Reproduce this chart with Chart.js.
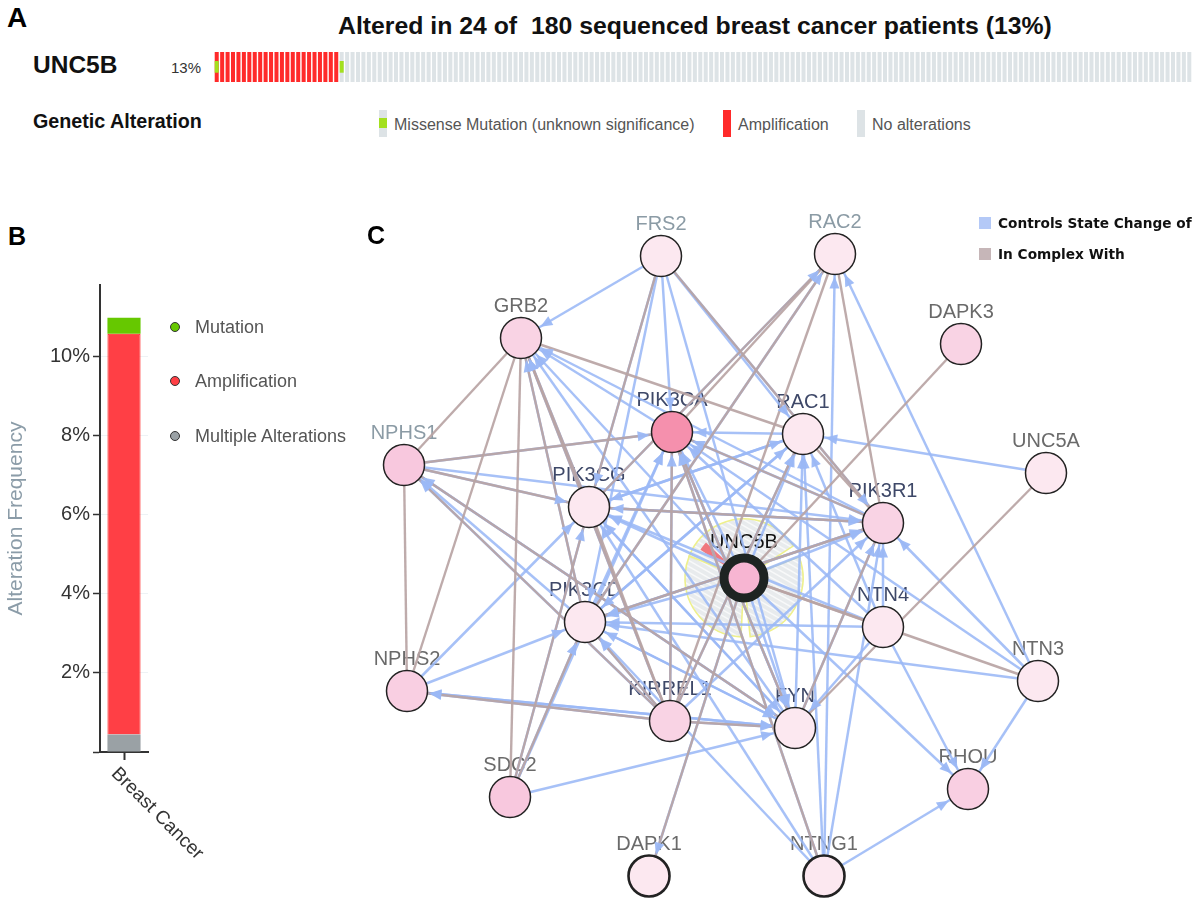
<!DOCTYPE html>
<html>
<head>
<meta charset="utf-8">
<script src="https://cdn.jsdelivr.net/npm/chart.js@4.4.1/dist/chart.umd.min.js"></script>
<style>
    body { margin: 0; width: 1200px; height: 906px; background: #fff; position: relative; overflow: hidden;
        font-family: "Liberation Sans", Arial, sans-serif; }
    .t { position: absolute; white-space: nowrap; line-height: 1; }
    .b { font-weight: bold; }
    .box { position: absolute; }
    canvas { position: absolute; }
    .dot { position: absolute; width: 10px; height: 10px; border-radius: 50%; border: 1.3px solid #333; box-sizing: border-box; }
    .leg { position: absolute; font-family: "DejaVu Sans", Verdana, sans-serif; font-weight: bold; font-size: 13.7px; color: #111; line-height: 1; white-space: nowrap; }
</style>
</head>
<body>

<!-- panel A -->
<div class="t b" style="left:7px;top:4px;font-size:28px;">A</div>
<canvas id="onco" width="978" height="30" style="left:214px;top:52px;"></canvas>
<div class="t b" style="left:338px;top:14px;font-size:24.8px;color:#111;">Altered in 24 of&nbsp; 180 sequenced breast cancer patients (13%)</div>
<div class="t b" style="left:33px;top:53px;font-size:24.5px;color:#111;">UNC5B</div>
<div class="t" style="left:171px;top:60px;font-size:15px;color:#333;">13%</div>
<div class="t b" style="left:33px;top:112px;font-size:19.7px;color:#111;">Genetic Alteration</div>

<div class="box" style="left:379px;top:110px;width:8px;height:27px;background:#dde3e6;"></div>
<div class="box" style="left:379px;top:118px;width:8px;height:10px;background:#a3e01e;"></div>
<div class="t" style="left:394px;top:117px;font-size:16px;color:#555;">Missense Mutation (unknown significance)</div>
<div class="box" style="left:723px;top:110px;width:8px;height:27px;background:#ff2a2a;"></div>
<div class="t" style="left:738px;top:117px;font-size:16px;color:#555;">Amplification</div>
<div class="box" style="left:857px;top:110px;width:8px;height:27px;background:#dde3e6;"></div>
<div class="t" style="left:872px;top:117px;font-size:16px;color:#555;">No alterations</div>

<!-- panel B -->
<div class="t b" style="left:8px;top:224px;font-size:25px;">B</div>
<canvas id="freq" width="360" height="636" style="left:0px;top:270px;"></canvas>
<div class="dot" style="left:170px;top:322px;background:#66c800;"></div>
<div class="t" style="left:195px;top:318px;font-size:18px;color:#555;">Mutation</div>
<div class="dot" style="left:170px;top:376px;background:#ff3f45;"></div>
<div class="t" style="left:195px;top:372px;font-size:18px;color:#555;">Amplification</div>
<div class="dot" style="left:170px;top:431px;background:#9aa1a5;"></div>
<div class="t" style="left:195px;top:427px;font-size:18px;color:#555;">Multiple Alterations</div>

<!-- panel C -->
<canvas id="net" width="840" height="706" style="left:360px;top:200px;"></canvas>
<div class="t b" style="left:367px;top:223px;font-size:25px;">C</div>
<div class="box" style="left:979px;top:217px;width:12px;height:12px;background:#b4c9f7;"></div>
<div class="leg" style="left:998px;top:217px;">Controls State Change of</div>
<div class="box" style="left:979px;top:248px;width:12px;height:12px;background:#c6b6b8;"></div>
<div class="leg" style="left:998px;top:248px;">In Complex With</div>

<script>
    "use strict";

    // ---------- data ----------

    // panel A: oncoprint, runs of samples from left to right
    var sampleRuns = [
        ['amp+mut', 1],
        ['amp', 22],
        ['mut', 1],
        ['none', 156]
    ];

    // panel B: alteration frequency (%)
    var cancerTypes = ['Breast Cancer'];
    var multipleFreq = [0.44];
    var ampFreq = [10.13];
    var mutFreq = [0.40];

    // panel C: network layout (x, y in layout units)
    var nodeNames = ['FRS2', 'RAC2', 'GRB2', 'DAPK3', 'PIK3CA', 'RAC1', 'NPHS1', 'UNC5A', 'PIK3CG', 'PIK3R1',
        'UNC5B', 'PIK3CD', 'NTN4', 'NPHS2', 'NTN3', 'KIRREL1', 'FYN', 'SDC2', 'RHOU', 'DAPK1', 'NTNG1'];
    var nodeX = [30.1, 47.5, 16.1, 60.1, 31.2, 44.3, 4.4, 68.6, 22.9, 52.3,
        38.4, 22.5, 52.3, 4.7, 67.8, 31.0, 43.5, 15.0, 60.8, 28.9, 46.4];
    var nodeY = [65.0, 65.2, 56.8, 56.2, 47.4, 47.2, 44.1, 43.3, 39.9, 38.3,
        32.8, 28.4, 27.9, 21.5, 22.5, 18.5, 17.8, 10.9, 11.7, 3.0, 3.0];

    // "Controls State Change of" (source -> target)
    var controlsEdges = [
        ['FRS2', 'GRB2'], ['FRS2', 'PIK3CA'], ['FRS2', 'PIK3CG'], ['FRS2', 'PIK3CD'], ['FRS2', 'RAC1'],
        ['FRS2', 'PIK3R1'], ['FRS2', 'FYN'],
        ['PIK3CG', 'RAC2'], ['PIK3CD', 'RAC2'], ['NTNG1', 'RAC2'], ['NTN3', 'RAC2'],
        ['PIK3CA', 'GRB2'], ['PIK3CG', 'GRB2'], ['PIK3CD', 'GRB2'], ['KIRREL1', 'GRB2'], ['FYN', 'GRB2'],
        ['PIK3R1', 'GRB2'], ['UNC5B', 'GRB2'],
        ['UNC5B', 'PIK3CA'], ['FYN', 'PIK3CA'], ['KIRREL1', 'PIK3CA'], ['PIK3R1', 'PIK3CA'], ['NTN4', 'PIK3CA'],
        ['PIK3CD', 'PIK3CA'], ['NPHS1', 'PIK3CA'], ['NTNG1', 'PIK3CA'], ['SDC2', 'PIK3CA'], ['RAC1', 'PIK3CA'],
        ['NTN3', 'PIK3CA'],
        ['NPHS1', 'PIK3CG'], ['NPHS2', 'PIK3CG'], ['SDC2', 'PIK3CG'], ['PIK3R1', 'PIK3CG'], ['NTN4', 'PIK3CG'],
        ['UNC5B', 'PIK3CG'], ['RAC1', 'PIK3CG'], ['FYN', 'PIK3CG'], ['NTNG1', 'PIK3CG'],
        ['NPHS2', 'PIK3CD'], ['SDC2', 'PIK3CD'], ['KIRREL1', 'PIK3CD'], ['UNC5B', 'PIK3CD'], ['FYN', 'PIK3CD'],
        ['NTN4', 'PIK3CD'], ['NTN3', 'PIK3CD'], ['PIK3R1', 'PIK3CD'], ['NTNG1', 'PIK3CD'], ['RAC1', 'PIK3CD'],
        ['UNC5A', 'RAC1'], ['PIK3CG', 'RAC1'], ['PIK3CD', 'RAC1'], ['KIRREL1', 'RAC1'], ['FYN', 'RAC1'],
        ['NTN4', 'RAC1'], ['NTNG1', 'RAC1'], ['UNC5B', 'RAC1'],
        ['NTN3', 'PIK3R1'], ['NTN4', 'PIK3R1'], ['FYN', 'PIK3R1'], ['KIRREL1', 'PIK3R1'], ['PIK3CG', 'PIK3R1'],
        ['PIK3CD', 'PIK3R1'], ['NPHS1', 'PIK3R1'], ['NTNG1', 'PIK3R1'], ['UNC5B', 'PIK3R1'],
        ['PIK3CD', 'NPHS1'], ['KIRREL1', 'NPHS1'], ['FYN', 'NPHS1'],
        ['KIRREL1', 'NPHS2'], ['FYN', 'NPHS2'],
        ['SDC2', 'FYN'], ['PIK3CD', 'FYN'], ['NPHS2', 'FYN'], ['KIRREL1', 'FYN'], ['NTN4', 'FYN'],
        ['PIK3CG', 'FYN'], ['PIK3CA', 'FYN'], ['UNC5B', 'FYN'], ['NPHS1', 'FYN'],
        ['NTN4', 'RHOU'], ['NTN3', 'RHOU'], ['NTNG1', 'RHOU'], ['UNC5B', 'RHOU'],
        ['UNC5B', 'DAPK1']
    ];

    // "In Complex With" (undirected)
    var complexEdges = [
        ['FRS2', 'PIK3CG'], ['FRS2', 'PIK3R1'],
        ['GRB2', 'NPHS1'], ['GRB2', 'NPHS2'], ['GRB2', 'SDC2'], ['GRB2', 'PIK3CG'], ['GRB2', 'PIK3CD'],
        ['GRB2', 'RAC1'], ['GRB2', 'KIRREL1'],
        ['NPHS1', 'NPHS2'], ['NPHS1', 'PIK3CA'], ['NPHS1', 'KIRREL1'], ['NPHS1', 'FYN'], ['NPHS1', 'PIK3CG'],
        ['RAC2', 'PIK3CA'], ['RAC2', 'PIK3CG'], ['RAC2', 'PIK3CD'], ['RAC2', 'PIK3R1'], ['RAC2', 'KIRREL1'],
        ['PIK3CA', 'PIK3R1'], ['PIK3CG', 'PIK3R1'], ['PIK3CD', 'PIK3R1'], ['PIK3CA', 'FYN'], ['PIK3R1', 'FYN'],
        ['NPHS2', 'KIRREL1'], ['KIRREL1', 'FYN'], ['KIRREL1', 'PIK3CD'], ['SDC2', 'PIK3CD'], ['SDC2', 'PIK3CG'],
        ['DAPK3', 'UNC5B'], ['UNC5A', 'FYN'], ['NTN3', 'UNC5B'], ['NTN4', 'UNC5B'], ['DAPK1', 'UNC5B'],
        ['NTNG1', 'PIK3CA'], ['RAC1', 'KIRREL1'], ['RAC1', 'PIK3R1'], ['PIK3CG', 'KIRREL1'], ['PIK3CA', 'KIRREL1']
    ];

    // ---------- styles ----------
    var FONT = '"Liberation Sans", Arial, sans-serif';
    Chart.defaults.font.family = FONT;

    var nodeFill = {
        PIK3CA: '#f590ad', UNC5B: '#f7b5d2',
        GRB2: '#f9d3e4', DAPK3: '#f9d3e4', NPHS1: '#f8c8de', NPHS2: '#f9cfe2', SDC2: '#f8c8de',
        PIK3R1: '#f9d3e4', KIRREL1: '#f9d3e4', RHOU: '#f9cfe2'
    };
    var lightFill = '#fce8f0';
    var labelInner = ['PIK3CA', 'RAC1', 'PIK3CG', 'PIK3R1', 'PIK3CD', 'NTN4', 'KIRREL1', 'FYN'];
    var labelBlueGray = ['FRS2', 'RAC2', 'NPHS1'];

    // ---------- panel A: oncoprint ----------
    var samples = [];
    sampleRuns.forEach(function (r) {
        for (var i = 0; i < r[1]; i++) samples.push(r[0]);
    });
    var sampleLabels = samples.map(function (s, i) { return 'S' + (i + 1); });

    new Chart(document.getElementById('onco'), {
        type: 'bar',
        data: {
            labels: sampleLabels,
            datasets: [{
                label: 'Missense Mutation (unknown significance)',
                data: samples.map(function (s) { return s.indexOf('mut') >= 0 ? [0.31, 0.70] : null; }),
                backgroundColor: '#a3e01e', grouped: false
            }, {
                label: 'Amplification',
                data: samples.map(function (s) { return s.indexOf('amp') === 0 ? [0, 1] : null; }),
                backgroundColor: '#ff2a2a', grouped: false
            }, {
                label: 'No alterations',
                data: samples.map(function (s) { return (s === 'mut' || s === 'none') ? [0, 1] : null; }),
                backgroundColor: '#dde3e6', grouped: false
            }]
        },
        options: {
            responsive: false, animation: false, events: [],
            layout: { padding: 0, autoPadding: false },
            datasets: { bar: { categoryPercentage: 0.74, barPercentage: 1, borderWidth: 0 } },
            plugins: { legend: { display: false }, tooltip: { enabled: false } },
            scales: {
                x: { display: false },
                y: { display: false, min: 0, max: 1 }
            }
        }
    });

    // ---------- panel B: frequency bar ----------
    var slantLabels = {
        id: 'slantLabels',
        afterDraw: function (chart) {
            var x = chart.scales.x, ctx = chart.ctx;
            x.getLabels().forEach(function (lab, i) {
                var px = x.getPixelForTick(i);
                ctx.save();
                ctx.translate(px - 3, x.top + 12);
                ctx.rotate(Math.PI / 4);
                ctx.font = '19px ' + FONT;
                ctx.fillStyle = '#333';
                ctx.textAlign = 'left';
                ctx.textBaseline = 'top';
                ctx.fillText(lab, 0, 0);
                ctx.restore();
            });
        }
    };

    new Chart(document.getElementById('freq'), {
        type: 'bar',
        data: {
            labels: cancerTypes,
            datasets: [
                { label: 'Multiple Alterations', data: multipleFreq, backgroundColor: '#9aa1a5' },
                { label: 'Amplification', data: ampFreq, backgroundColor: '#ff3f45', borderColor: '#ff1c1c', borderWidth: 1 },
                { label: 'Mutation', data: mutFreq, backgroundColor: '#66c800' }
            ]
        },
        options: {
            responsive: false, animation: false, events: [],
            layout: { padding: { top: 15, right: 212, left: 4, bottom: 0 } },
            datasets: { bar: { categoryPercentage: 1, barPercentage: 0.69 } },
            plugins: { legend: { display: false }, tooltip: { enabled: false } },
            scales: {
                x: {
                    stacked: true,
                    grid: { offset: false, color: 'rgba(0,0,0,0)', tickColor: '#333', tickLength: 8, tickWidth: 2 },
                    border: { color: '#333', width: 2 },
                    ticks: { display: false },
                    afterFit: function (s) { s.height = 154; }
                },
                y: {
                    stacked: true, min: 0, max: 11.8,
                    grid: { color: '#eef2f5', tickColor: '#333', tickLength: 7, tickWidth: 1.5 },
                    border: { color: '#333', width: 2 },
                    ticks: {
                        stepSize: 2, includeBounds: false, color: '#333', padding: 3,
                        font: { size: 20 },
                        callback: function (v) { return v === 0 ? '' : v + '%'; }
                    },
                    title: { display: true, text: 'Alteration Frequency', color: '#8b9ca8', font: { size: 21 }, padding: 0 },
                    afterFit: function (s) { s.width = 96; }
                }
            }
        },
        plugins: [slantLabels]
    });

    // ---------- panel C: interaction network ----------
    function pt(name) {
        var i = nodeNames.indexOf(name);
        return { x: nodeX[i], y: nodeY[i] };
    }

    var netSets = [];
    // node dataset first (lowest order -> drawn on top)
    netSets.push({
        label: 'nodes',
        data: nodeNames.map(pt),
        pointRadius: nodeNames.map(function (n) { return n === 'UNC5B' ? 20 : 20.5; }),
        pointBackgroundColor: nodeNames.map(function (n) { return nodeFill[n] || lightFill; }),
        pointBorderColor: nodeNames.map(function (n) { return n === 'UNC5B' ? '#1e2422' : '#222'; }),
        pointBorderWidth: nodeNames.map(function (n) {
            if (n === 'UNC5B') return 9;
            return (n === 'DAPK1' || n === 'NTNG1') ? 2.6 : 1.5;
        }),
        order: 0
    });
    complexEdges.forEach(function (e) {
        netSets.push({
            data: [pt(e[0]), pt(e[1])], showLine: true, pointRadius: 0,
            borderColor: 'rgba(184,164,164,0.92)', borderWidth: 2.4, order: 1
        });
    });
    controlsEdges.forEach(function (e) {
        netSets.push({
            data: [pt(e[0]), pt(e[1])], showLine: true, pointRadius: 0,
            borderColor: 'rgba(155,184,246,0.88)', borderWidth: 2.5, order: 2
        });
    });

    // halo around UNC5B + node labels, under the edges
    var netDecor = {
        id: 'netDecor',
        beforeDatasetsDraw: function (chart) {
            var ctx = chart.ctx, sx = chart.scales.x, sy = chart.scales.y;
            var c = pt('UNC5B');
            var cx = sx.getPixelForValue(c.x), cy = sy.getPixelForValue(c.y);
            var d2r = Math.PI / 180;
            var wedges = [[-159, -33], [-21, 84], [93, 202]];

            function wedgePath(a0, a1, r) {
                ctx.beginPath();
                ctx.moveTo(cx, cy);
                ctx.arc(cx, cy, r, a0 * d2r, a1 * d2r);
                ctx.closePath();
            }

            ctx.save();
            wedges.forEach(function (w) {
                wedgePath(w[0], w[1], 59);
                ctx.fillStyle = 'rgba(226,230,232,0.8)';
                ctx.fill();
                ctx.save();
                ctx.clip();
                ctx.strokeStyle = 'rgba(255,255,255,0.7)';
                ctx.lineWidth = 1.5;
                for (var k = -70; k < 70; k += 6) {
                    ctx.beginPath();
                    ctx.moveTo(cx - 70, cy + k - 40);
                    ctx.lineTo(cx + 70, cy + k + 40);
                    ctx.stroke();
                }
                ctx.restore();
                wedgePath(w[0], w[1], 59);
                ctx.strokeStyle = '#eef08c';
                ctx.lineWidth = 1.6;
                ctx.stroke();
            });
            wedgePath(-147, -137, 52);
            ctx.fillStyle = '#f0787e';
            ctx.fill();

            ctx.font = '20px ' + FONT;
            ctx.textAlign = 'center';
            ctx.textBaseline = 'alphabetic';
            nodeNames.forEach(function (n) {
                var p = pt(n);
                var px = sx.getPixelForValue(p.x), py = sy.getPixelForValue(p.y);
                if (n === 'UNC5B') {
                    ctx.fillStyle = '#111';
                    ctx.fillText(n, px, py - 30);
                    return;
                }
                ctx.fillStyle = labelInner.indexOf(n) >= 0 ? '#3e4868' :
                    (labelBlueGray.indexOf(n) >= 0 ? '#8b9ba5' : '#6a6a6a');
                ctx.fillText(n, px, py - 26);
            });
            ctx.restore();
        },
        // arrow heads just before the nodes are drawn
        beforeDatasetDraw: function (chart, args) {
            if (args.index !== 0) return;
            var ctx = chart.ctx, sx = chart.scales.x, sy = chart.scales.y;
            ctx.save();
            ctx.fillStyle = 'rgba(155,184,246,0.95)';
            controlsEdges.forEach(function (e) {
                var a = pt(e[0]), b = pt(e[1]);
                var x1 = sx.getPixelForValue(a.x), y1 = sy.getPixelForValue(a.y);
                var x2 = sx.getPixelForValue(b.x), y2 = sy.getPixelForValue(b.y);
                var ang = Math.atan2(y2 - y1, x2 - x1);
                var r = e[1] === 'UNC5B' ? 26 : 22.5;
                var tx = x2 - Math.cos(ang) * r, ty = y2 - Math.sin(ang) * r;
                var len = 12, half = 5;
                var bx = tx - Math.cos(ang) * len, by = ty - Math.sin(ang) * len;
                ctx.beginPath();
                ctx.moveTo(tx, ty);
                ctx.lineTo(bx + Math.sin(ang) * half, by - Math.cos(ang) * half);
                ctx.lineTo(bx - Math.sin(ang) * half, by + Math.cos(ang) * half);
                ctx.closePath();
                ctx.fill();
            });
            ctx.restore();
        }
    };

    new Chart(document.getElementById('net'), {
        type: 'scatter',
        data: { datasets: netSets },
        options: {
            responsive: false, animation: false, events: [],
            layout: { padding: 0, autoPadding: false },
            plugins: { legend: { display: false }, tooltip: { enabled: false } },
            scales: {
                x: { display: false, min: 0, max: 84 },
                y: { display: false, min: 0, max: 70.6 }
            }
        },
        plugins: [netDecor]
    });
</script>
</body>
</html>
